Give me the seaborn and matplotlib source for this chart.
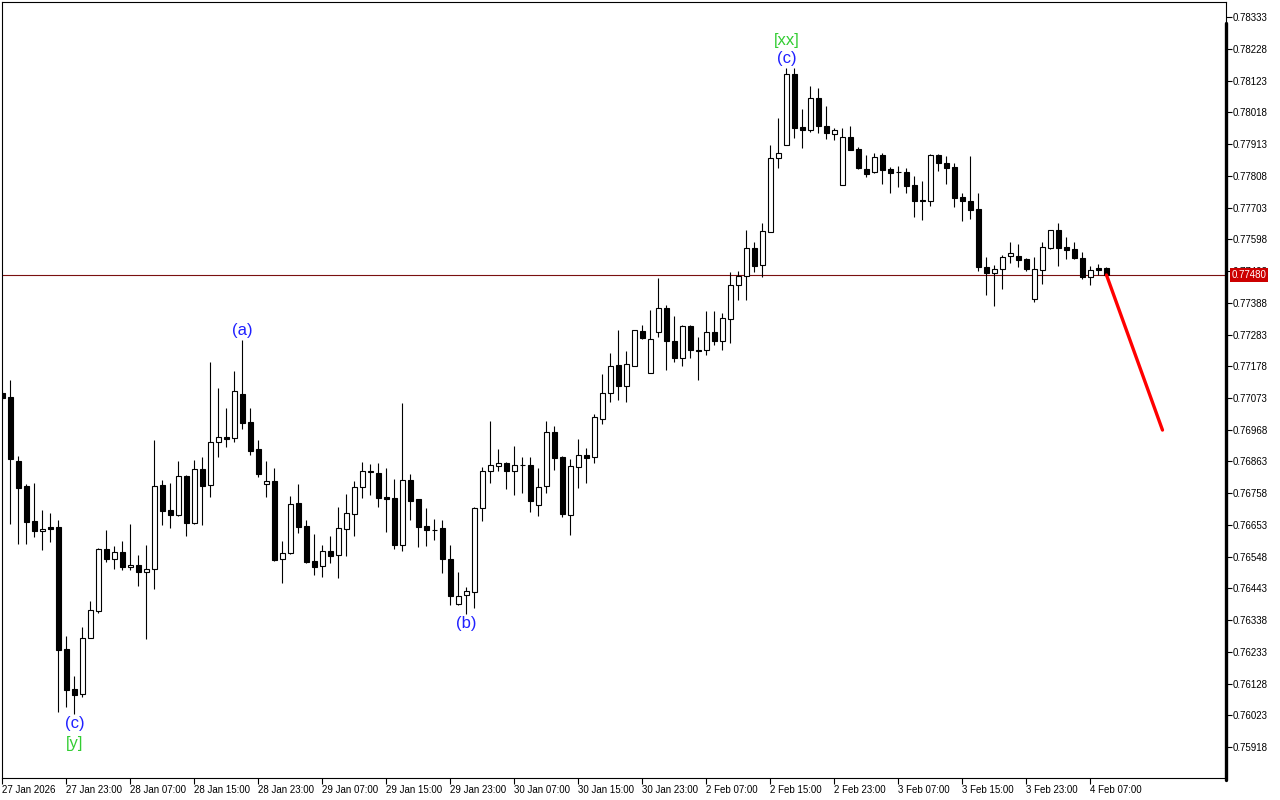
import matplotlib
matplotlib.use("Agg")
import matplotlib.pyplot as plt
import numpy as np
import pandas as pd
import seaborn as sns

# H1 candles, 27 Jan 15:00 .. 4 Feb 09:00 (trading hours only)
OPEN = [0.77089, 0.77077, 0.76864, 0.76781, 0.76665, 0.76633, 0.76646, 0.76646, 0.76242, 0.76112,
        0.76095, 0.76280, 0.76369, 0.76575, 0.76542, 0.76562, 0.76514, 0.76520, 0.76499, 0.76508,
        0.76785, 0.76702, 0.76686, 0.76814, 0.76658, 0.76838, 0.76784, 0.76926, 0.76944, 0.76941,
        0.77086, 0.76993, 0.76904, 0.76787, 0.76798, 0.76540, 0.76559, 0.76725, 0.76649, 0.76533,
        0.76516, 0.76566, 0.76555, 0.76641, 0.76688, 0.76778, 0.76828, 0.76824, 0.76746, 0.76741,
        0.76586, 0.76801, 0.76738, 0.76649, 0.76638, 0.76643, 0.76542, 0.76390, 0.76423, 0.76432,
        0.76708, 0.76830, 0.76849, 0.76857, 0.76832, 0.76850, 0.76850, 0.76719, 0.76782, 0.76962,
        0.76877, 0.76686, 0.76844, 0.76886, 0.76879, 0.77005, 0.77091, 0.77181, 0.77113, 0.77180,
        0.77294, 0.77156, 0.77291, 0.77370, 0.77263, 0.77207, 0.77310, 0.77231, 0.77231, 0.77293,
        0.77263, 0.77335, 0.77447, 0.77477, 0.77568, 0.77514, 0.77622, 0.77866, 0.77911, 0.78146,
        0.77969, 0.77961, 0.78067, 0.77974, 0.77945, 0.77779, 0.77935, 0.77898, 0.77829, 0.77820,
        0.77876, 0.77829, 0.77821, 0.77821, 0.77777, 0.77727, 0.77726, 0.77878, 0.77849, 0.77836,
        0.77737, 0.77725, 0.77697, 0.77505, 0.77488, 0.77500, 0.77544, 0.77544, 0.77532, 0.77401,
        0.77497, 0.77570, 0.77629, 0.77573, 0.77566, 0.77535, 0.77474, 0.77503, 0.77503]
HIGH = [0.77099, 0.77132, 0.76881, 0.76790, 0.76791, 0.76704, 0.76691, 0.76671, 0.76285, 0.76152,
        0.76314, 0.76401, 0.76577, 0.76637, 0.76583, 0.76599, 0.76655, 0.76553, 0.76586, 0.76934,
        0.76801, 0.76792, 0.76864, 0.76818, 0.76868, 0.76879, 0.77192, 0.77106, 0.77040, 0.77163,
        0.77265, 0.77040, 0.76934, 0.76864, 0.76842, 0.76599, 0.76748, 0.76790, 0.76669, 0.76622,
        0.76586, 0.76616, 0.76713, 0.76755, 0.76798, 0.76861, 0.76854, 0.76858, 0.76843, 0.76804,
        0.77055, 0.76820, 0.76738, 0.76708, 0.76674, 0.76671, 0.76586, 0.76497, 0.76447, 0.76713,
        0.76844, 0.76996, 0.76903, 0.76861, 0.76914, 0.76877, 0.76877, 0.76843, 0.76996, 0.76982,
        0.76881, 0.76870, 0.76936, 0.76906, 0.77020, 0.77152, 0.77221, 0.77298, 0.77228, 0.77298,
        0.77314, 0.77364, 0.77470, 0.77380, 0.77344, 0.77313, 0.77313, 0.77274, 0.77361, 0.77361,
        0.77353, 0.77490, 0.77493, 0.77629, 0.77589, 0.77651, 0.77911, 0.77998, 0.78166, 0.78166,
        0.78028, 0.78104, 0.78100, 0.78038, 0.77965, 0.77965, 0.77972, 0.77903, 0.77876, 0.77882,
        0.77882, 0.77837, 0.77842, 0.77835, 0.77807, 0.77790, 0.77879, 0.77880, 0.77873, 0.77849,
        0.77750, 0.77873, 0.77752, 0.77538, 0.77514, 0.77546, 0.77588, 0.77582, 0.77537, 0.77540,
        0.77588, 0.77629, 0.77651, 0.77605, 0.77588, 0.77555, 0.77510, 0.77517, 0.77505]
LOW = [0.77066, 0.76656, 0.76589, 0.76589, 0.76613, 0.76569, 0.76596, 0.76035, 0.76052, 0.76027,
       0.76083, 0.76278, 0.76362, 0.76530, 0.76507, 0.76503, 0.76503, 0.76450, 0.76276, 0.76441,
       0.76652, 0.76643, 0.76682, 0.76616, 0.76656, 0.76652, 0.76745, 0.76879, 0.76910, 0.76928,
       0.76972, 0.76884, 0.76812, 0.76745, 0.76535, 0.76460, 0.76557, 0.76627, 0.76528, 0.76489,
       0.76480, 0.76528, 0.76477, 0.76550, 0.76617, 0.76741, 0.76751, 0.76713, 0.76630, 0.76572,
       0.76567, 0.76669, 0.76580, 0.76584, 0.76603, 0.76494, 0.76387, 0.76389, 0.76358, 0.76380,
       0.76667, 0.76792, 0.76832, 0.76771, 0.76751, 0.76760, 0.76696, 0.76682, 0.76760, 0.76834,
       0.76680, 0.76619, 0.76775, 0.76792, 0.76858, 0.76986, 0.77060, 0.77066, 0.77060, 0.77179,
       0.77267, 0.77155, 0.77275, 0.77165, 0.77192, 0.77180, 0.77206, 0.77132, 0.77215, 0.77249,
       0.77232, 0.77255, 0.77397, 0.77397, 0.77490, 0.77473, 0.77621, 0.77833, 0.77910, 0.77932,
       0.77900, 0.77953, 0.77948, 0.77929, 0.77928, 0.77777, 0.77893, 0.77829, 0.77804, 0.77817,
       0.77780, 0.77751, 0.77770, 0.77751, 0.77673, 0.77662, 0.77709, 0.77824, 0.77780, 0.77706,
       0.77658, 0.77665, 0.77494, 0.77414, 0.77378, 0.77434, 0.77520, 0.77507, 0.77494, 0.77389,
       0.77450, 0.77567, 0.77510, 0.77533, 0.77533, 0.77468, 0.77447, 0.77480, 0.77478]
CLOSE = [0.77073, 0.76872, 0.76776, 0.76663, 0.76633, 0.76641, 0.76640, 0.76238, 0.76108, 0.76092,
         0.76280, 0.76371, 0.76575, 0.76540, 0.76562, 0.76513, 0.76520, 0.76497, 0.76509, 0.76781,
         0.76700, 0.76686, 0.76814, 0.76659, 0.76838, 0.76782, 0.76926, 0.76943, 0.76938, 0.77096,
         0.76991, 0.76898, 0.76821, 0.76797, 0.76537, 0.76559, 0.76722, 0.76647, 0.76530, 0.76513,
         0.76566, 0.76550, 0.76643, 0.76691, 0.76778, 0.76831, 0.76830, 0.76741, 0.76740, 0.76586,
         0.76801, 0.76733, 0.76645, 0.76638, 0.76637, 0.76540, 0.76418, 0.76418, 0.76434, 0.76710,
         0.76831, 0.76850, 0.76859, 0.76832, 0.76853, 0.76851, 0.76733, 0.76780, 0.76962, 0.76875,
         0.76689, 0.76847, 0.76886, 0.76875, 0.77009, 0.77091, 0.77178, 0.77113, 0.77185, 0.77297,
         0.77272, 0.77267, 0.77370, 0.77262, 0.77206, 0.77310, 0.77233, 0.77230, 0.77293, 0.77262,
         0.77337, 0.77447, 0.77477, 0.77568, 0.77510, 0.77624, 0.77866, 0.77883, 0.78146, 0.77966,
         0.77960, 0.78067, 0.77974, 0.77948, 0.77959, 0.77935, 0.77895, 0.77833, 0.77813, 0.77869,
         0.77826, 0.77818, 0.77820, 0.77774, 0.77726, 0.77726, 0.77878, 0.77849, 0.77834, 0.77735,
         0.77726, 0.77695, 0.77507, 0.77488, 0.77500, 0.77541, 0.77552, 0.77528, 0.77499, 0.77500,
         0.77572, 0.77629, 0.77570, 0.77564, 0.77535, 0.77473, 0.77497, 0.77497, 0.77480]

BID = 0.77480

# projected move (red line)
PROJ_X = [138, 145]
PROJ_Y = [0.77480, 0.76967]

# wave labels: text, candle index, anchor ('high'/'low'), offset px, colour
WAVE_LABELS = [
    ("(c)", 9, "low", -9, "#2020ff"),
    ("[y]", 9, "low", -29, "#32cd32"),
    ("(a)", 30, "high", 9, "#2020ff"),
    ("(b)", 58, "low", -9, "#2020ff"),
    ("(c)", 98, "high", 9, "#2020ff"),
    ("[xx]", 98, "high", 27, "#32cd32"),
]

PRICE_TICKS = ["0.78333", "0.78228", "0.78123", "0.78018", "0.77913", "0.77808", "0.77703",
               "0.77598", "0.77493", "0.77388", "0.77283", "0.77178", "0.77073", "0.76968",
               "0.76863", "0.76758", "0.76653", "0.76548", "0.76443", "0.76338", "0.76233",
               "0.76128", "0.76023", "0.75918"]
TIME_LABELS = ["27 Jan 2026", "27 Jan 23:00", "28 Jan 07:00", "28 Jan 15:00", "28 Jan 23:00",
               "29 Jan 07:00", "29 Jan 15:00", "29 Jan 23:00", "30 Jan 07:00", "30 Jan 15:00",
               "30 Jan 23:00", "2 Feb 07:00", "2 Feb 15:00", "2 Feb 23:00", "3 Feb 07:00",
               "3 Feb 15:00", "3 Feb 23:00", "4 Feb 07:00"]

sns.set_style("white")
plt.rcParams['font.family'] = ['Liberation Sans', 'DejaVu Sans']

df = pd.DataFrame({"o": OPEN, "h": HIGH, "l": LOW, "c": CLOSE})
df["x"] = np.arange(len(df))
df["bull"] = df["c"] >= df["o"]

fig = plt.figure(figsize=(12.8, 8), dpi=100)
ax = fig.add_axes([2 / 1280, 22 / 800, 1224 / 1280, 776 / 800])

# wicks, then bodies on top
ax.vlines(df["x"], df["l"], df["h"], color="black", linewidth=0.8, zorder=2)
body_bottom = df[["o", "c"]].min(axis=1)
body_h = (df["c"] - df["o"]).abs()
ax.bar(df["x"], body_h, bottom=body_bottom, width=0.6,
       color=np.where(df["bull"], "white", "black"), edgecolor="black",
       linewidth=0.8, zorder=3)

# bid line
ax.axhline(BID, color="#7a1010", linewidth=0.8, zorder=1)

# projection
sns.lineplot(x=PROJ_X, y=PROJ_Y, ax=ax, color="#ff0000", linewidth=2.4, zorder=4)

for txt, i, where, off, col in WAVE_LABELS:
    yv = HIGH[i] if where == "high" else LOW[i]
    ax.annotate(txt, xy=(i, yv), xytext=(0, off * 0.72), textcoords="offset points",
                ha="center", va="center", fontsize=12, color=col, zorder=5)

ax.set_xlim(-0.06, 152.94)
ax.set_ylim(0.75816, 0.78383)

ax.yaxis.tick_right()
ax.set_yticks([float(t) for t in PRICE_TICKS])
ax.set_yticklabels(PRICE_TICKS)
ax.set_xticks(np.arange(len(TIME_LABELS)) * 8)
ax.set_xticklabels(TIME_LABELS, ha="left")
ax.tick_params(axis="y", which="both", right=True, left=False, length=4, width=0.8,
               pad=1, labelsize=7, colors="black")
ax.tick_params(axis="x", which="both", bottom=True, length=4, width=0.8,
               pad=1, labelsize=7, colors="black")

for s in ax.spines.values():
    s.set_color("black")
    s.set_linewidth(0.8)
# heavier price-scale edge
ax.plot([1, 1], [-0.003, 0.973], transform=ax.transAxes, color="black",
        linewidth=2.4, clip_on=False, zorder=6)

# current price box
ax.annotate(f"{BID:.5f}", xy=(1.0, BID), xycoords=("axes fraction", "data"),
            xytext=(4, 0), textcoords="offset points", ha="left", va="center",
            fontsize=7, color="white", zorder=7,
            bbox=dict(boxstyle="square,pad=0.2", facecolor="#cc0000", edgecolor="none"))

fig.savefig("out.png", dpi=100)
